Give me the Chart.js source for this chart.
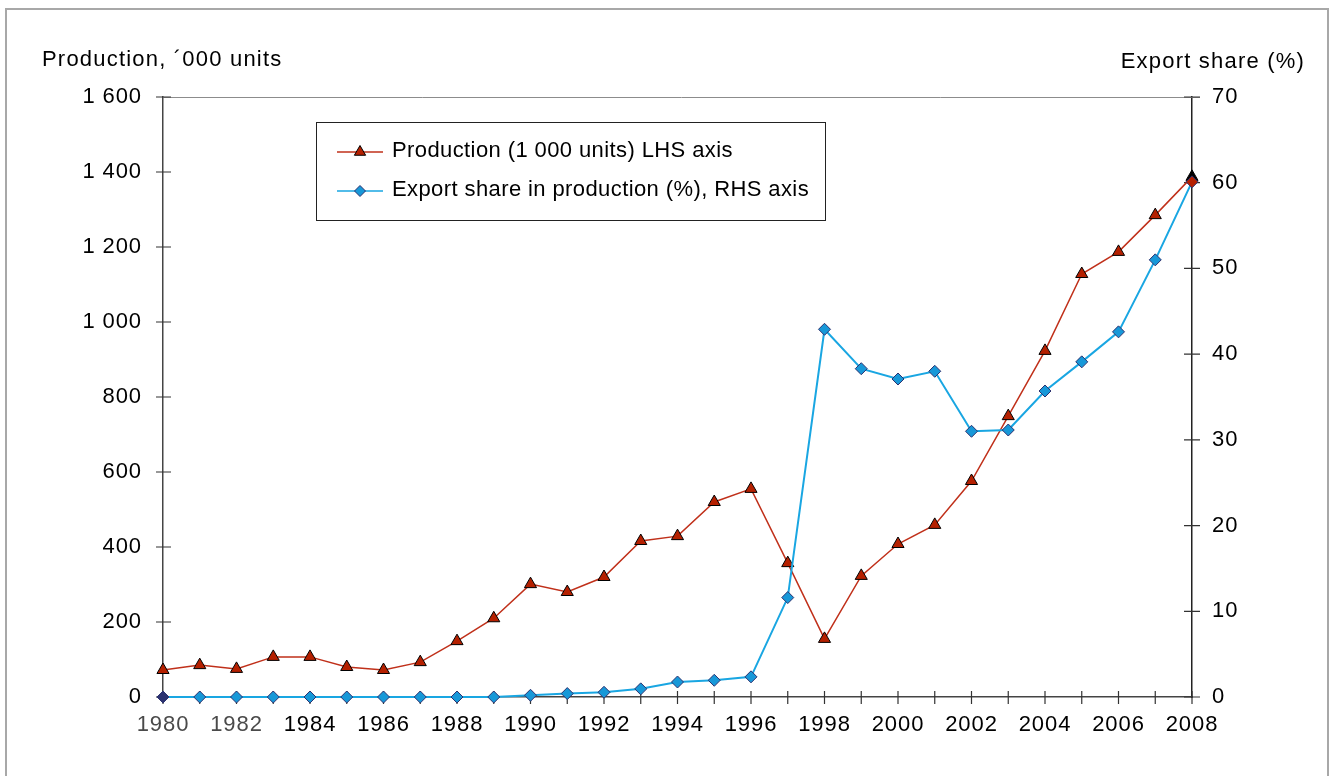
<!DOCTYPE html>
<html>
<head>
<meta charset="utf-8">
<script src="https://cdn.jsdelivr.net/npm/chart.js@4.4.1/dist/chart.umd.min.js"></script>
<style>
  body { margin: 0; background: #fff; overflow: hidden; }
  #frame { position: absolute; left: 5px; top: 8px; width: 1324px; height: 820px; border: 2px solid #a8a8a8; box-sizing: border-box; }
  #chart { position: absolute; left: 0; top: 0; }
</style>
</head>
<body>
<div id="frame"></div>
<canvas id="chart" width="1336" height="776"></canvas>
<script>
// years on the x axis
const years = ['1980', '1981', '1982', '1983', '1984', '1985', '1986', '1987', '1988', '1989',
    '1990', '1991', '1992', '1993', '1994', '1995', '1996', '1997', '1998', '1999',
    '2000', '2001', '2002', '2003', '2004', '2005', '2006', '2007', '2008'];

// production, '000 units (left axis)
const production = [72, 85, 75, 107, 107, 80, 72, 93, 149, 210,
    301, 280, 320, 416, 429, 520, 555, 357, 155, 323,
    408, 459, 576, 749, 923, 1128, 1187, 1285, 1387];

// export share in production, % (right axis)
const exportShare = [0, 0, 0, 0, 0, 0, 0, 0, 0, 0,
    0.2, 0.4, 0.55, 0.95, 1.75, 1.95, 2.35, 11.6, 42.9, 38.3,
    37.1, 38.0, 31.0, 31.15, 35.7, 39.1, 42.6, 51.0, 60.1];

const leftTicks = [0, 200, 400, 600, 800, 1000, 1200, 1400, 1600];
const rightTicks = [0, 10, 20, 30, 40, 50, 60, 70];

const leftTitle = 'Production, \u00b4000 units';
const rightTitle = 'Export share (%)';
const productionLabel = 'Production (1 000 units) LHS axis';
const exportLabel = 'Export share in production (%), RHS axis';

const red = '#b52000';
const redLine = '#c0301a';
const blue = '#1798d8';
const blueLine = '#19a6e2';
const navy = '#2c3270';
const fontFamily = '"Liberation Sans", Arial, sans-serif';

Chart.defaults.font.family = fontFamily;
Chart.defaults.font.size = 22;
Chart.defaults.color = '#000';

function spaced(value) {
    return String(value).replace(/\B(?=(\d{3})+(?!\d))/g, ' ');
}

function drawMarker(ctx, style, radius, x, y) {
    if (Chart.helpers && Chart.helpers.drawPoint) {
        Chart.helpers.drawPoint(ctx, { pointStyle: style, radius: radius, rotation: 0, borderWidth: 1 }, x, y);
        return;
    }
    ctx.beginPath();
    if (style === 'triangle') {
        ctx.moveTo(x, y - radius);
        ctx.lineTo(x + radius * 0.866, y + radius * 0.5);
        ctx.lineTo(x - radius * 0.866, y + radius * 0.5);
    } else {
        ctx.moveTo(x - radius, y);
        ctx.lineTo(x, y - radius);
        ctx.lineTo(x + radius, y);
        ctx.lineTo(x, y + radius);
    }
    ctx.closePath();
    ctx.fill();
    ctx.stroke();
}

const decorations = {
    id: 'decorations',
    beforeDraw(chart) {
        // the reference lettering is a little wider than Arial
        chart.ctx.letterSpacing = '0.9px';
    },
    beforeDatasetsDraw(chart) {
        const ctx = chart.ctx;
        const area = chart.chartArea;
        const xScale = chart.scales.x;
        const yLeft = chart.scales.yLeft;
        const yRight = chart.scales.yRight;

        ctx.save();
        // top line of the plot area
        ctx.strokeStyle = '#8c8c8c';
        ctx.lineWidth = 1;
        ctx.beginPath();
        ctx.moveTo(area.left, Math.round(area.top) + 0.5);
        ctx.lineTo(area.right + 8, Math.round(area.top) + 0.5);
        ctx.stroke();

        // tick marks crossing the axes
        ctx.strokeStyle = '#333';
        ctx.lineWidth = 1.2;
        ctx.beginPath();
        xScale.ticks.forEach((t, i) => {
            const px = xScale.getPixelForTick(i);
            ctx.moveTo(px, area.bottom - 6);
            ctx.lineTo(px, area.bottom + 7);
        });
        yLeft.ticks.forEach((t, i) => {
            const py = yLeft.getPixelForTick(i);
            ctx.moveTo(area.left - 7, py);
            ctx.lineTo(area.left + 8, py);
        });
        yRight.ticks.forEach((t, i) => {
            const py = yRight.getPixelForTick(i);
            ctx.moveTo(area.right - 8, py);
            ctx.lineTo(area.right + 8, py);
        });
        ctx.stroke();
        ctx.restore();
    },
    afterDraw(chart) {
        const ctx = chart.ctx;
        ctx.save();
        ctx.font = '22px ' + fontFamily;
        ctx.letterSpacing = '1.2px';
        ctx.fillStyle = '#000';
        ctx.textBaseline = 'middle';
        ctx.textAlign = 'left';
        ctx.fillText(leftTitle, 42, 60);
        ctx.textAlign = 'right';
        ctx.fillText(rightTitle, 1305, 62);

        // legend box
        ctx.strokeStyle = '#222';
        ctx.lineWidth = 1;
        ctx.fillStyle = '#fff';
        ctx.fillRect(316.5, 122.5, 509, 98);
        ctx.strokeRect(316.5, 122.5, 509, 98);

        const rows = [
            { label: productionLabel, line: redLine, fill: red, style: 'triangle', radius: 6.5, y: 152 },
            { label: exportLabel, line: blueLine, fill: blue, style: 'rectRot', radius: 5.5, y: 191 }
        ];
        ctx.letterSpacing = '0.4px';
        rows.forEach(row => {
            ctx.strokeStyle = row.line;
            ctx.lineWidth = 1.5;
            ctx.beginPath();
            ctx.moveTo(337, row.y);
            ctx.lineTo(383, row.y);
            ctx.stroke();
            ctx.fillStyle = row.fill;
            ctx.strokeStyle = row.style === 'triangle' ? '#000' : navy;
            ctx.lineWidth = 1;
            drawMarker(ctx, row.style, row.radius, 360, row.y);
            ctx.fillStyle = '#000';
            ctx.textAlign = 'left';
            ctx.textBaseline = 'middle';
            ctx.fillText(row.label, 392, row.y - 1);
        });
        ctx.restore();
    }
};

const lastIndex = years.length - 1;

new Chart(document.getElementById('chart').getContext('2d'), {
    type: 'line',
    data: {
        labels: years,
        datasets: [{
            label: exportLabel,
            data: exportShare,
            yAxisID: 'yRight',
            order: 0,
            borderColor: blueLine,
            borderWidth: 2,
            pointStyle: 'rectRot',
            pointRadius: 6,
            pointBorderWidth: 1,
            pointBorderColor: navy,
            pointBackgroundColor: c => c.dataIndex === 0 ? navy : (c.dataIndex === lastIndex ? red : blue),
            tension: 0,
            clip: false
        }, {
            label: productionLabel,
            data: production,
            yAxisID: 'yLeft',
            order: 1,
            borderColor: redLine,
            borderWidth: 1.5,
            pointStyle: 'triangle',
            pointRadius: 7,
            pointBorderWidth: 1,
            pointBorderColor: '#000',
            pointBackgroundColor: c => c.dataIndex === lastIndex ? '#000' : red,
            tension: 0,
            clip: false
        }]
    },
    options: {
        responsive: false,
        animation: false,
        layout: { padding: { top: 97, left: 0, right: 0, bottom: 0 } },
        plugins: {
            legend: { display: false },
            tooltip: { enabled: false }
        },
        scales: {
            x: {
                type: 'category',
                offset: false,
                grid: { display: false, drawTicks: false },
                border: { display: true, color: '#444', width: 1.5 },
                ticks: {
                    autoSkip: false,
                    maxRotation: 0,
                    padding: 15,
                    color: c => (c.index === 0 || c.index === 2) ? '#4a4a4a' : '#000',
                    callback: function (value, index) {
                        return index % 2 === 0 ? this.getLabelForValue(value) : '';
                    }
                },
                afterFit: s => { s.height = 79; }
            },
            yLeft: {
                position: 'left',
                min: leftTicks[0],
                max: leftTicks[leftTicks.length - 1],
                grid: { display: false, drawTicks: false },
                border: { display: true, color: '#444', width: 1.5 },
                afterBuildTicks: s => { s.ticks = leftTicks.map(v => ({ value: v })); },
                ticks: {
                    padding: 21,
                    callback: v => spaced(v)
                },
                afterFit: s => { s.width = 163; }
            },
            yRight: {
                position: 'right',
                min: rightTicks[0],
                max: rightTicks[rightTicks.length - 1],
                grid: { display: false, drawTicks: false },
                border: { display: true, color: '#222', width: 1.5 },
                afterBuildTicks: s => { s.ticks = rightTicks.map(v => ({ value: v })); },
                ticks: { padding: 20 },
                afterFit: s => { s.width = 144; }
            }
        }
    },
    plugins: [decorations]
});
</script>
</body>
</html>
